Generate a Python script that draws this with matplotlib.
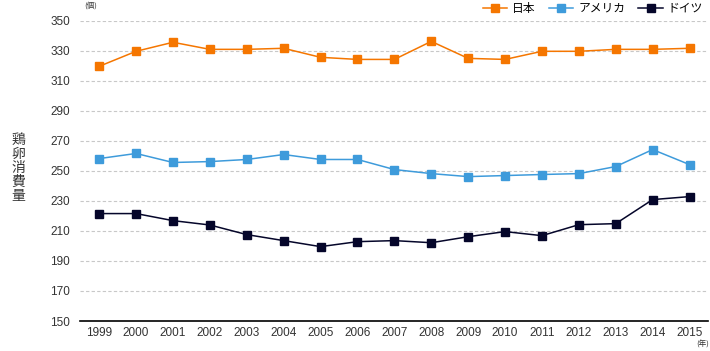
import matplotlib.pyplot as plt

plt.rcParams['font.family'] = ['Liberation Sans', 'Noto Sans CJK JP', 'DejaVu Sans']

years = ['1999', '2000', '2001', '2002', '2003', '2004', '2005', '2006', '2007',
         '2008', '2009', '2010', '2011', '2012', '2013', '2014', '2015']
japan = [319.5, 329.5, 335.5, 330.8, 330.8, 331.5, 325.5, 324.1, 324.1,
         336.1, 324.8, 324.1, 329.5, 329.5, 330.8, 330.8, 331.5]
usa = [258.1, 261.5, 255.5, 256.1, 257.5, 260.8, 257.5, 257.5, 250.8,
       248.1, 246.1, 246.8, 247.5, 248.1, 252.8, 264.1, 254.1]
germany = [221.5, 221.5, 216.8, 213.9, 207.5, 203.5, 199.5, 202.8, 203.5,
           202.1, 206.1, 209.5, 206.8, 214.1, 214.8, 230.8, 232.8]
names = ['日本', 'アメリカ', 'ドイツ']
colors = ['#F57600', '#3E9BDB', '#05062A']

fig = plt.figure(figsize=(7.1, 3.51), dpi=100)
ax = fig.add_axes([80 / 710, 1 - 321 / 351, 628 / 710, 300.5 / 351])

x = range(len(years))
for vals, name, c in zip([japan, usa, germany], names, colors):
    ax.plot(x, vals, color=c, lw=1.1, marker='s', markersize=5.5, label=name)

ax.set_xlim(-0.52, 16.5)
ax.set_ylim(150, 350)
ax.set_yticks(range(150, 351, 20))
ax.set_xticks(list(x))
ax.set_xticklabels(years)
ax.grid(axis='y', color='#c8c8c8', linestyle=(0, (3, 2)), lw=0.8)
ax.set_axisbelow(True)
for s in ['left', 'right', 'top']:
    ax.spines[s].set_visible(False)
ax.spines['bottom'].set_color('black')
ax.spines['bottom'].set_linewidth(1.2)
ax.tick_params(length=0, labelsize=8.5, colors='#333333', pad=4)
ax.tick_params(axis='y', pad=7)

fig.text(18 / 710, 1 - 168 / 351, '\n'.join('鶏卵消費量'), ha='center', va='center',
         fontsize=10, color='#333333', linespacing=1.0, family='Noto Sans CJK JP')
fig.text(91 / 710, 1 - 6 / 351, '(個)', ha='center', va='center', fontsize=5.5,
         color='#333333', family='Noto Sans CJK JP')
fig.text(703 / 710, 1 - 345 / 351, '(年)', ha='center', va='center', fontsize=5.5,
         color='#333333', family='Noto Sans CJK JP')

fig.legend(loc='upper right', bbox_to_anchor=(1.005, 1.025), ncol=3, frameon=False,
           handlelength=2.1, columnspacing=1.1, handletextpad=0.4,
           prop={'family': 'Noto Sans CJK JP', 'size': 8.5})

fig.savefig('out.png', dpi=100)
